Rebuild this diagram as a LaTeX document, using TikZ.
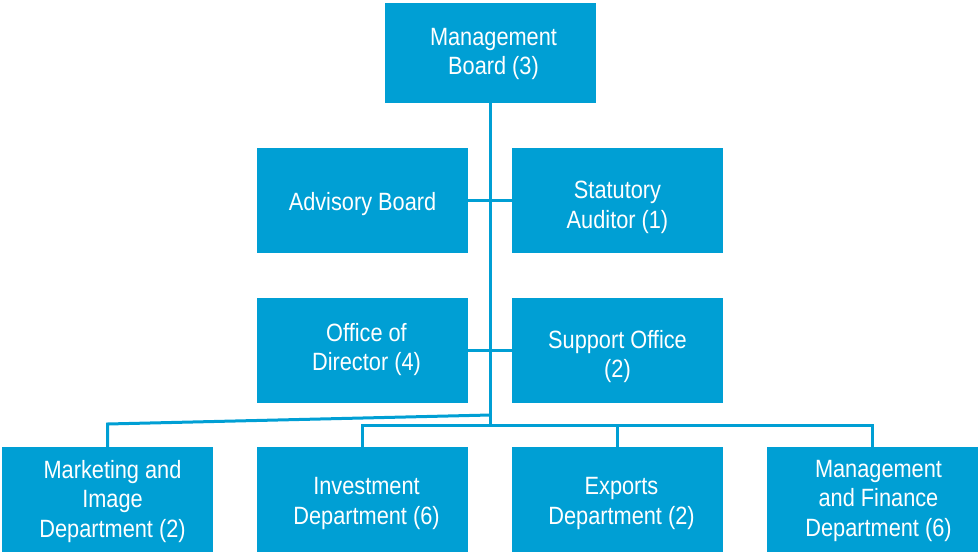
\documentclass[tikz,border=0pt]{standalone}
\usepackage{fontspec}
\setmainfont{Liberation Sans}[FakeStretch=0.87]
\definecolor{orgblue}{RGB}{0,159,212}
\begin{document}
\begin{tikzpicture}[x=1pt,y=-1pt,
  unitbox/.style={fill=orgblue, inner sep=0pt, minimum width=211pt, minimum height=105pt},
  boxtext/.style={text=white, inner sep=0pt, align=center, font=\fontsize{25}{29.5}\selectfont},
  link/.style={draw=orgblue, line width=3pt}]
\useasboundingbox (0,0) rectangle (978,554);
\node[unitbox, minimum height=100pt] (MB) at (490.5,53) {};
\node[unitbox] (AB) at (362.5,200.5) {};
\node[unitbox] (SA) at (617.5,200.5) {};
\node[unitbox] (OD) at (362.5,350.5) {};
\node[unitbox] (SO) at (617.5,350.5) {};
\node[unitbox] (MK) at (107.5,499.5) {};
\node[unitbox] (INV) at (362.5,499.5) {};
\node[unitbox] (EXP) at (617.5,499.5) {};
\node[unitbox] (MF) at (872.5,499.5) {};
\node[boxtext] (MBt) at ([shift={(3,1)}]MB.center) {Management\\Board (3)};
\node[boxtext] (ABt) at ([shift={(0,4)}]AB.center) {Advisory Board};
\node[boxtext] (SAt) at ([shift={(0,7)}]SA.center) {Statutory\\Auditor (1)};
\node[boxtext] (ODt) at ([shift={(4,-1)}]OD.center) {Office of\\Director (4)};
\node[boxtext] (SOt) at ([shift={(0,6)}]SO.center) {Support Office\\(2)};
\node[boxtext] (MKt) at ([shift={(5,2)}]MK.center) {Marketing and\\Image\\Department (2)};
\node[boxtext] (INVt) at ([shift={(4,4)}]INV.center) {Investment\\Department (6)};
\node[boxtext] (EXPt) at ([shift={(4,4)}]EXP.center) {Exports\\Department (2)};
\node[boxtext] (MFt) at ([shift={(6,1)}]MF.center) {Management\\and Finance\\Department (6)};
\coordinate (hb) at (490.5,425);
\coordinate (sl) at (490.5,415);
\coordinate (kl) at (107.5,424);
\draw[link] (MB.south) -- (hb);
\draw[link] (AB.east) -- (SA.west);
\draw[link] (OD.east) -- (SO.west);
\draw[link] (sl) -- (kl) -- (MK.north);
\draw[link] (INV.north) -- (INV.north |- hb) -- (MF.north |- hb) -- (MF.north);
\draw[link] (EXP.north) -- (EXP.north |- hb);
\end{tikzpicture}
\end{document}
